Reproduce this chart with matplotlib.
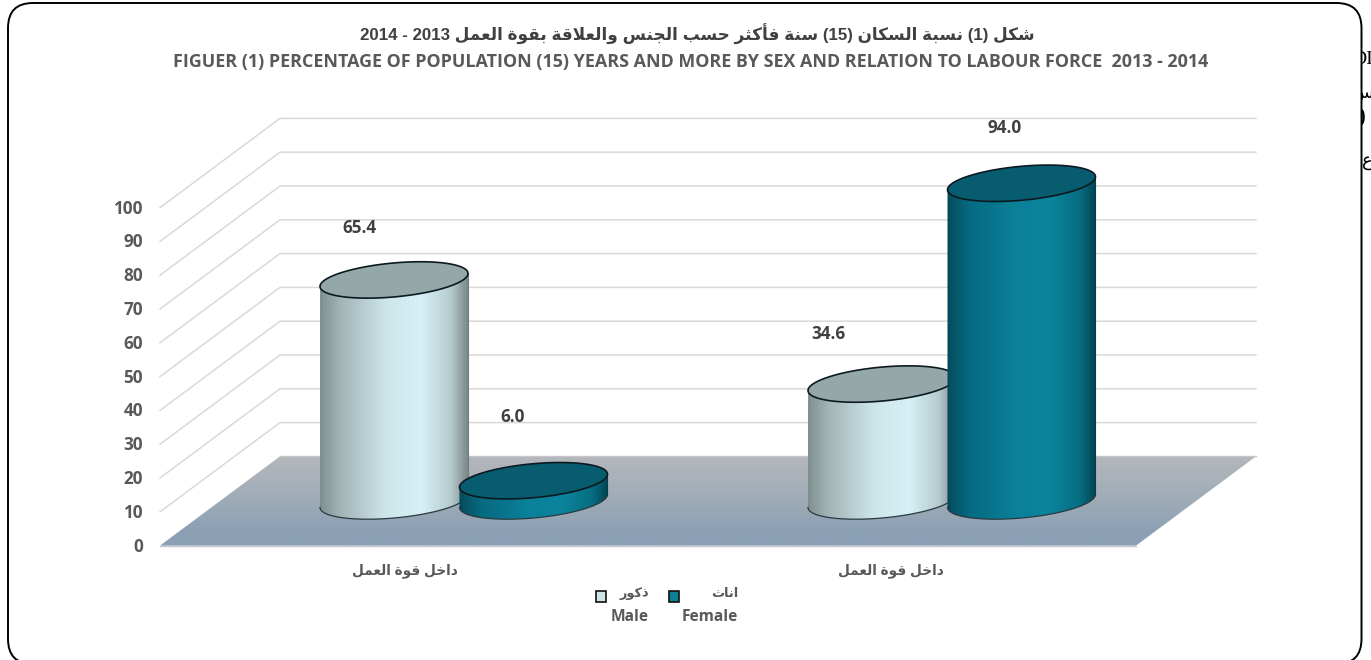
import unicodedata
import numpy as np
import matplotlib
matplotlib.use('Agg')
import matplotlib.pyplot as plt
from matplotlib.colors import LinearSegmentedColormap
from matplotlib.patches import FancyBboxPatch, PathPatch, Polygon, Rectangle
from matplotlib.path import Path
from matplotlib.transforms import Affine2D

# data
categories = ['داخل قوة العمل', 'داخل قوة العمل']
male_values = [65.4, 34.6]
female_values = [6.0, 94.0]
y_ticks = [0, 10, 20, 30, 40, 50, 60, 70, 80, 90, 100]
title_ar = 'شكل (1) نسبة السكان (15) سنة فأكثر حسب الجنس والعلاقة بقوة العمل 2013 - 2014'
title_en = 'FIGUER (1) PERCENTAGE OF POPULATION (15) YEARS AND MORE BY SEX AND RELATION TO LABOUR FORCE  2013 - 2014'
legend_ar = ['ذكور', 'اناث']
legend_en = ['Male', 'Female']

W, H = 1371, 660
PX_PER_UNIT = 3.38
BASE_Y = 501          # pixel row of value 0 in the plane of the cylinders
DEPTH = 13.2          # floor depth either side of that plane, in value units
SKEW = 120            # x shift from front to back of the floor

MALE_COL = ['#7d8d8e', '#a3b5b7', '#cde6ea', '#d6f1f6', '#b5cacc', '#727f80']
FEMALE_COL = ['#05495a', '#066a80', '#0a8099', '#0b859d', '#076e83', '#033f4d']
STOPS = [0, 0.15, 0.45, 0.68, 0.88, 1]
GREY = '#595959'
OPEN = ['Open Sans', 'DejaVu Sans']
ARIAL = ['Liberation Sans', 'DejaVu Sans']

NO_JOIN_AFTER = set('اأدذرزوة')


def form(c, kind):
    return unicodedata.lookup(unicodedata.name(c) + ' ' + kind + ' FORM')


def is_ar(c):
    return '\u0621' <= c <= '\u064a'


def shape_word(w):
    out = []
    i = 0
    while i < len(w):
        c = w[i]
        prev_joins = i > 0 and is_ar(w[i - 1]) and w[i - 1] not in NO_JOIN_AFTER
        if c == 'ل' and i + 1 < len(w) and w[i + 1] == 'ا':
            kind = 'FINAL' if prev_joins else 'ISOLATED'
            out.append(unicodedata.lookup('ARABIC LIGATURE LAM WITH ALEF ' + kind + ' FORM'))
            i += 2
            continue
        next_joins = i + 1 < len(w) and is_ar(w[i + 1]) and c not in NO_JOIN_AFTER
        if prev_joins and next_joins:
            out.append(form(c, 'MEDIAL'))
        elif prev_joins:
            out.append(form(c, 'FINAL'))
        elif next_joins:
            out.append(form(c, 'INITIAL'))
        else:
            out.append(form(c, 'ISOLATED'))
        i += 1
    return ''.join(out[::-1])


def ar(s):
    # matplotlib has no shaping or bidi, so put the text in visual order
    words = []
    for w in s.split(' '):
        words.append(shape_word(w) if any(is_ar(c) for c in w) else w)
    return ' '.join(words[::-1])


fig = plt.figure(figsize=(W / 100, H / 100), dpi=100, facecolor='white')
ax = fig.add_axes([0, 0, 1, 1])
ax.axis('off')
# x is in pixels, y in chart values
ylim = ((BASE_Y - H) / PX_PER_UNIT, BASE_Y / PX_PER_UNIT)
px = Affine2D().scale(1, -1).translate(0, H)  # layout in image pixels

# stray text from the page behind the chart, cut off by the frame
for xx, yy, s, fs in [(1352, 59, 'DI', 14), (1352, 93, ar('س'), 13), (1366, 120, '0', 20), (1373, 161, ar('ع'), 13)]:
    ha = 'left' if xx == 1352 else 'right'
    ax.text(xx, yy, s, transform=px, ha=ha, va='center', fontsize=fs,
            family=['Liberation Serif', 'DejaVu Sans'], color='black', zorder=0)

ax.add_patch(FancyBboxPatch((8, 3), 1353.5, 661, boxstyle='round,pad=0,rounding_size=25',
                            fc='white', ec='black', lw=1.4, transform=px, zorder=1, clip_on=False))


def gradient(colors, stops, extent, clip, vertical=False, z=3):
    cmap = LinearSegmentedColormap.from_list('g', list(zip(stops, colors)))
    g = np.linspace(0, 1, 256)
    g = g[:, None] if vertical else g[None, :]
    im = ax.imshow(g, cmap=cmap, extent=extent, aspect='auto', origin='upper',
                   interpolation='bilinear', zorder=z)
    im.set_clip_path(clip)


# walls and floor
x_front, x_back = 160, 160 + SKEW
x_end = 1256
for v in y_ticks[1:]:
    ax.plot([x_front, x_back, x_end], [v - DEPTH, v + DEPTH, v + DEPTH],
            color='#d9d9d9', lw=1.1, zorder=2, solid_joinstyle='miter')
floor = Polygon([(x_front, -DEPTH), (x_back, DEPTH), (x_end, DEPTH), (x_end - SKEW, -DEPTH)],
                closed=True, fc='none', ec='none', transform=ax.transData)
ax.add_patch(floor)
gradient(['#b5b7bc', '#9eabb6', '#8ba0b5', '#8ba0b5'], [0, 0.5, 0.85, 1],
         (x_front, x_end, -DEPTH, DEPTH), floor, vertical=True, z=2)
ax.plot([x_front, x_end - SKEW], [-DEPTH, -DEPTH], color='#c4c8cc', lw=1, zorder=2.1)
ax.plot([x_back, x_end], [DEPTH, DEPTH], color='#c4c6ca', lw=1, zorder=2.1)

for v in y_ticks:
    ax.text(143, v - DEPTH - 0.3, str(v), ha='right', va='center', fontsize=12.3,
            fontweight='bold', family=OPEN, color=GREY, zorder=6)

A, B, K = 74, 17 / PX_PER_UNIT, 6.5 / PX_PER_UNIT


def rim(cx, base, t):
    return cx + A * np.cos(t), base + B * np.sin(t) + K * np.cos(t)


def cylinder(cx, value, colors, top_col, z):
    t_low = np.linspace(0, -np.pi, 80)
    t_up = np.linspace(np.pi, 0, 80)
    xb, yb = rim(cx, 0, t_low)
    xt, yt = rim(cx, value, t_up)
    body = PathPatch(Path(np.r_[np.c_[xb, yb], np.c_[xt, yt], [[xb[0], yb[0]]]]),
                     fc='none', ec='none', transform=ax.transData, zorder=z)
    ax.add_patch(body)
    gradient(colors, STOPS, (cx - A - 2, cx + A + 2, -10, value + 10), body, z=z)
    ax.plot(xb, yb, color='#2a3a3f', lw=0.9, zorder=z + 0.1)
    # side lines sit just inside the body so they blend with its edge
    ax.plot([cx - A + 0.5, cx - A + 0.5], [rim(cx, 0, np.pi)[1], rim(cx, value, np.pi)[1]],
            color=colors[0], lw=0.8, zorder=z + 0.1)
    ax.plot([cx + A - 0.5, cx + A - 0.5], [rim(cx, 0, 0.0)[1], rim(cx, value, 0.0)[1]],
            color=colors[-1], lw=0.8, zorder=z + 0.1)
    t = np.linspace(0, 2 * np.pi, 160)
    xe, ye = rim(cx, value, t)
    ax.fill(xe, ye, fc=top_col, ec='#0c1a20', lw=1.2, zorder=z + 0.2)


male_x = [394, 882]
female_x = [533.5, 1021.5]
male_label_pos = [(359, 228), (828, 334)]
female_label_pos = [(513, 417), (1005, 128)]
z = 3
for i in range(len(categories)):
    cylinder(male_x[i], male_values[i], MALE_COL, '#95a8a9', z)
    cylinder(female_x[i], female_values[i], FEMALE_COL, '#075c6f', z + 1)
    z += 2
    for val, pos in ((male_values[i], male_label_pos[i]), (female_values[i], female_label_pos[i])):
        ax.text(pos[0], pos[1], f'{val:.1f}', transform=px, ha='center', va='center',
                fontsize=12.3, fontweight='bold', family=OPEN, color='#404040', zorder=12)

ax.set_xlim(0, W)
ax.set_ylim(*ylim)

# titles
ax.text(697, 34, ar(title_ar), transform=px, ha='center', va='center', fontsize=12.2,
        fontweight='bold', family=ARIAL, color='#404040', zorder=12)
ax.text(691, 62, title_en, transform=px, ha='center', va='center', fontsize=12.85,
        fontweight='bold', family=OPEN, color=GREY, zorder=12)

# category labels
for xx, c in zip([405, 891], categories):
    ax.text(xx, 571, ar(c), transform=px, ha='center', va='center', fontsize=9.8,
            fontweight='bold', family=ARIAL, color=GREY, zorder=12)

# legend
for sx, col, right, la, le in zip([596, 669], ['#cfe3e6', '#0b7f96'], [649, 738], legend_ar, legend_en):
    ax.add_patch(Rectangle((sx, 591), 10, 11, fc=col, ec='#111111', lw=1.2, transform=px, zorder=12))
    ax.text(right, 594, ar(la), transform=px, ha='right', va='center', fontsize=9.3,
            fontweight='bold', family=ARIAL, color=GREY, zorder=12)
    ax.text(right, 617, le, transform=px, ha='right', va='center', fontsize=11.2,
            fontweight='bold', family=OPEN, color=GREY, zorder=12)

fig.savefig('out.png', dpi=100)
